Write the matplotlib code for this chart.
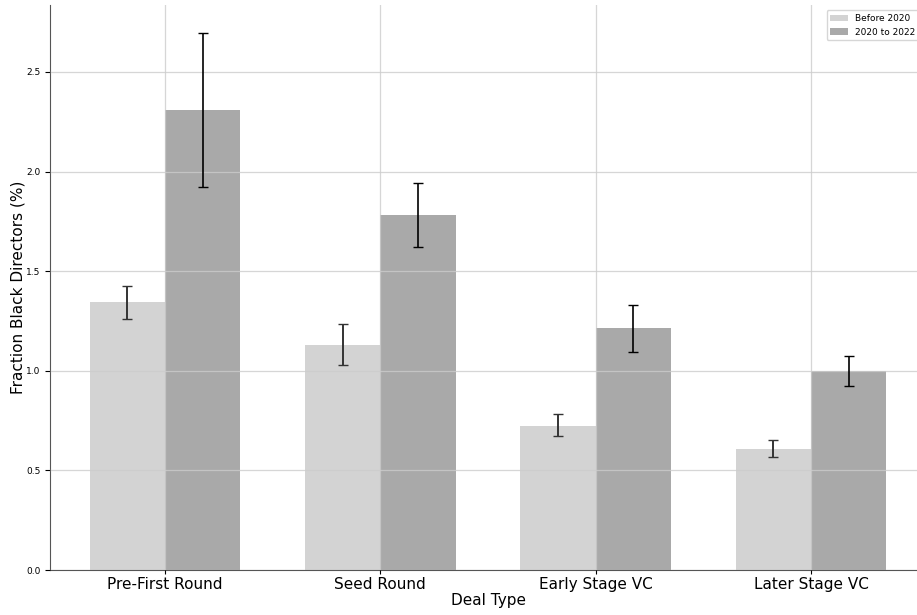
import matplotlib.pyplot as plt
import numpy as np

deal_types = ["Pre-First Round", "Seed Round", "Early Stage VC", "Later Stage VC"]

before_2020 = [1.345, 1.130, 0.723, 0.607]
before_lo = [1.262, 1.030, 0.675, 0.567]
before_hi = [1.428, 1.236, 0.782, 0.653]

recent = [2.310, 1.782, 1.215, 0.999]
recent_lo = [1.920, 1.621, 1.096, 0.925]
recent_hi = [2.697, 1.943, 1.331, 1.075]

fig = plt.figure(figsize=(9.17, 6.15), dpi=100)
ax = fig.add_axes([50 / 917, 45 / 615, 876 / 917, 565 / 615])

x = np.arange(len(deal_types))
w = 0.35

b1 = np.array(before_2020)
b2 = np.array(recent)
err1 = [b1 - np.array(before_lo), np.array(before_hi) - b1]
err2 = [b2 - np.array(recent_lo), np.array(recent_hi) - b2]

ax.bar(x - w / 2, b1, w, color="lightgray", label="Before 2020", zorder=1)
ax.bar(x + w / 2, b2, w, color="darkgray", label="2020 to 2022", zorder=1)
ax.errorbar(x - w / 2, b1, yerr=err1, fmt="none", ecolor="#333333", capsize=3.5, elinewidth=1.4, zorder=3)
ax.errorbar(x + w / 2, b2, yerr=err2, fmt="none", ecolor="black", capsize=3.5, elinewidth=1.2, zorder=3)

ax.grid(True, color="#cccccc", linewidth=0.9, alpha=0.8, zorder=2)
ax.set_axisbelow(False)

ax.set_xlim(-0.534, 3.534)
ax.set_ylim(0, 2.836)
ax.set_xticks(x)
ax.set_xticklabels(deal_types, fontsize=11)
ax.set_yticks([0.0, 0.5, 1.0, 1.5, 2.0, 2.5])
ax.tick_params(axis="y", labelsize=6.5)
ax.tick_params(axis="x", length=3, pad=2)
ax.set_xlabel("Deal Type", fontsize=11, labelpad=1)
ax.set_ylabel("Fraction Black Directors (%)", fontsize=11, labelpad=0)

for s in ["top", "right"]:
    ax.spines[s].set_visible(False)
for s in ["left", "bottom"]:
    ax.spines[s].set_color("#555555")

ax.legend(loc="upper right", bbox_to_anchor=(0.9985, 1.0), fontsize=6.5, frameon=True,
          borderaxespad=0.6)

fig.savefig("out.png", dpi=100)
